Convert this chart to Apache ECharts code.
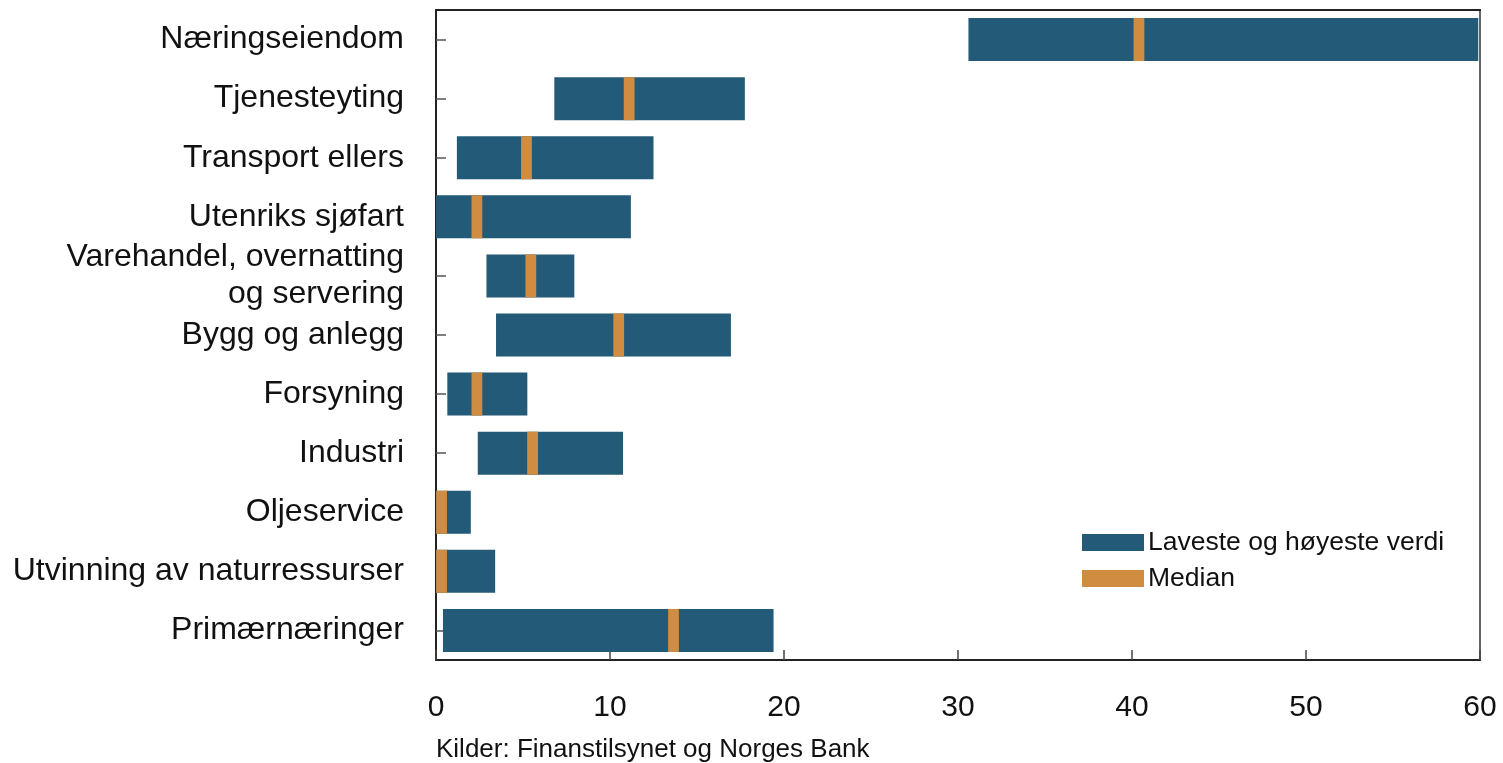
<!DOCTYPE html>
<html>
<head>
<meta charset="utf-8">
<script src="https://cdn.jsdelivr.net/npm/echarts@6/dist/echarts.min.js"></script>
<style>
  html, body { margin: 0; padding: 0; background: #fff; }
  #chart { width: 1503px; height: 763px; }
</style>
</head>
<body>
<div id="chart"></div>
<script>
// sectors, top to bottom
const categories = [
  'Næringseiendom', 'Tjenesteyting', 'Transport ellers', 'Utenriks sjøfart',
  'Varehandel, overnatting\nog servering', 'Bygg og anlegg', 'Forsyning',
  'Industri', 'Oljeservice', 'Utvinning av naturressurser', 'Primærnæringer'
];
const lowest  = [30.6, 6.8, 1.2, 0.0, 2.9, 3.45, 0.65, 2.4, 0.0, 0.0, 0.4];
const highest = [59.9, 17.75, 12.5, 11.2, 7.95, 16.95, 5.25, 10.75, 2.0, 3.4, 19.4];
const median  = [40.4, 11.1, 5.2, 2.35, 5.45, 10.5, 2.35, 5.55, 0.32, 0.32, 13.65];
const xTicks = [0, 10, 20, 30, 40, 50, 60];

const medianWidth = 0.62;
const blue = '#235a78';
const orange = '#d08c40';
const font = 'Liberation Sans, Arial, Helvetica, sans-serif';

const chart = echarts.init(document.getElementById('chart'));

chart.setOption({
  backgroundColor: '#ffffff',
  animation: false,
  textStyle: { fontFamily: font },
  grid: {
    left: 436, right: 23, top: 10, height: 650,
    show: true, borderColor: '#666', borderWidth: 2, backgroundColor: 'transparent'
  },
  legend: {
    left: 1082, top: 529, orient: 'vertical', padding: 0,
    itemWidth: 62, itemHeight: 17, itemGap: 9,
    icon: 'rect',
    data: ['Laveste og høyeste verdi', 'Median'],
    textStyle: { fontSize: 26.5, lineHeight: 26, color: '#111', fontFamily: font, padding: [0, 0, 0, -1] }
  },
  xAxis: [{
    type: 'value', min: xTicks[0], max: xTicks[xTicks.length - 1], interval: 10,
    splitLine: { show: false },
    axisLine: { show: true, lineStyle: { color: '#222', width: 2 } },
    axisTick: { show: true, inside: true, length: 10, lineStyle: { color: '#444', width: 1.5 } },
    axisLabel: { fontSize: 30, color: '#111', margin: 33, fontFamily: font }
  }, {
    type: 'value', position: 'top', min: 0, max: 60,
    axisLine: { show: true, lineStyle: { color: '#222', width: 2 } },
    axisTick: { show: false }, axisLabel: { show: false }, splitLine: { show: false }
  }],
  yAxis: {
    type: 'category', data: categories, inverse: true,
    axisLine: { show: true, lineStyle: { color: '#222', width: 2 } },
    axisTick: { show: true, inside: true, length: 10, alignWithLabel: true, lineStyle: { color: '#555', width: 1.5 } },
    axisLabel: {
      fontSize: 32, color: '#111', margin: 32, align: 'right', lineHeight: 37,
      padding: [6, 0, 0, 0], fontFamily: font
    }
  },
  graphic: [{
    type: 'text', left: 436, top: 737,
    style: { text: 'Kilder: Finanstilsynet og Norges Bank', fontSize: 26, fill: '#111', fontFamily: font }
  }],
  series: [
    {
      name: 'lowBase', type: 'bar', stack: 'range', barWidth: 43, barGap: '-100%',
      itemStyle: { color: 'transparent' }, silent: true,
      data: lowest
    },
    {
      name: 'Laveste og høyeste verdi', type: 'bar', stack: 'range', barWidth: 43,
      itemStyle: { color: blue },
      data: highest.map((h, i) => +(h - lowest[i]).toFixed(3))
    },
    {
      name: 'medBase', type: 'bar', stack: 'med', barWidth: 43, barGap: '-100%',
      itemStyle: { color: 'transparent' }, silent: true,
      data: median.map(m => Math.max(0, m - medianWidth / 2))
    },
    {
      name: 'Median', type: 'bar', stack: 'med', barWidth: 43,
      itemStyle: { color: orange },
      data: median.map(() => medianWidth)
    }
  ]
});
</script>
</body>
</html>
